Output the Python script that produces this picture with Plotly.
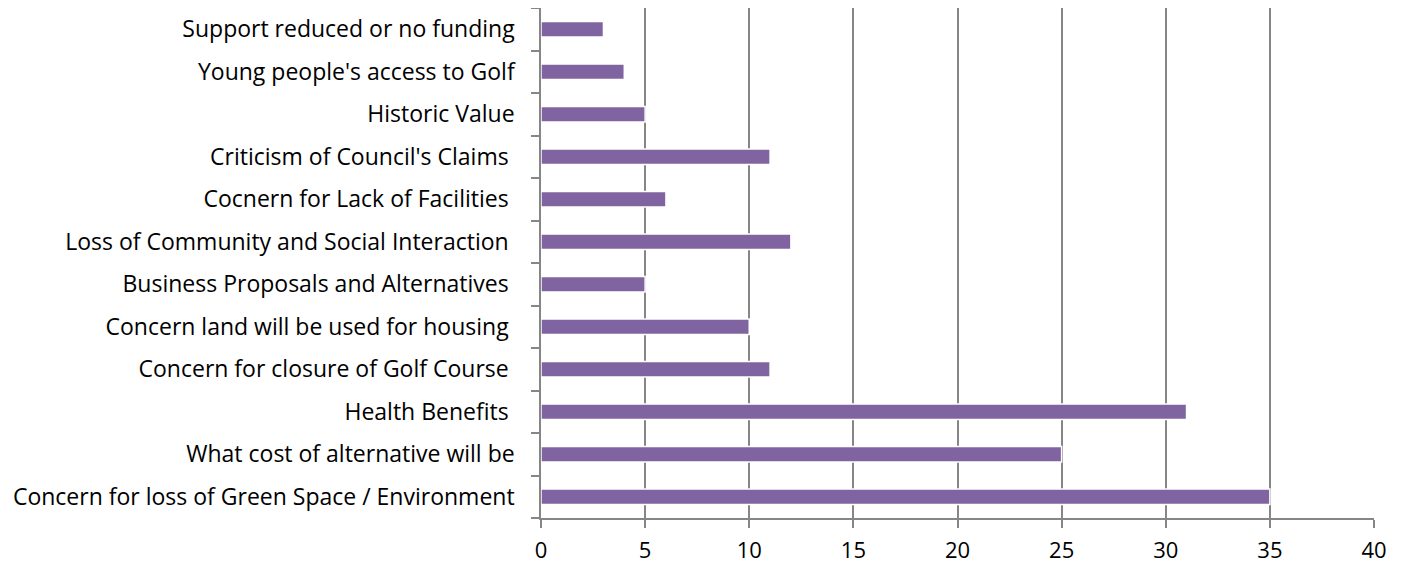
import plotly.graph_objects as go

categories = [
    "Concern for loss of Green Space / Environment",
    "What cost of alternative will be",
    "Health Benefits ",
    "Concern for closure of Golf Course ",
    "Concern land will be used for housing ",
    "Business Proposals and Alternatives ",
    "Loss of Community and Social Interaction ",
    "Cocnern for Lack of Facilities ",
    "Criticism of Council's Claims ",
    "Historic Value",
    "Young people's access to Golf",
    "Support reduced or no funding",
]
values = [35, 25, 31, 11, 10, 5, 12, 6, 11, 5, 4, 3]
x_ticks = [0, 5, 10, 15, 20, 25, 30, 35, 40]

fig = go.Figure()
fig.add_trace(go.Bar(
    x=values, y=categories, orientation="h",
    marker=dict(color="#8064A2", line=dict(color="white", width=1.5)),
    width=0.36,
))
fig.update_layout(
    width=1390, height=559,
    margin=dict(l=533, r=24, t=0, b=49, autoexpand=False),
    paper_bgcolor="white", plot_bgcolor="white",
    font=dict(family="Open Sans", size=23, color="black"),
    showlegend=False,
)
fig.update_xaxes(
    range=[0, 40], tickvals=x_ticks, showgrid=True, gridcolor="#868686", gridwidth=1.5,
    showline=True, linecolor="#868686", linewidth=1.5, ticks="outside", ticklen=8,
    tickcolor="#868686", tickwidth=1.5, zeroline=False, ticklabelstandoff=4,
    tickfont=dict(size=22), automargin=False,
)
fig.update_yaxes(
    categoryorder="array", categoryarray=categories, showgrid=False,
    showline=True, linecolor="#868686", linewidth=1.5, ticks="outside", ticklen=8,
    tickcolor="#868686", tickwidth=1.5, tickson="boundaries", ticklabelstandoff=20,
    automargin=False,
)
fig.write_html("out.html")
